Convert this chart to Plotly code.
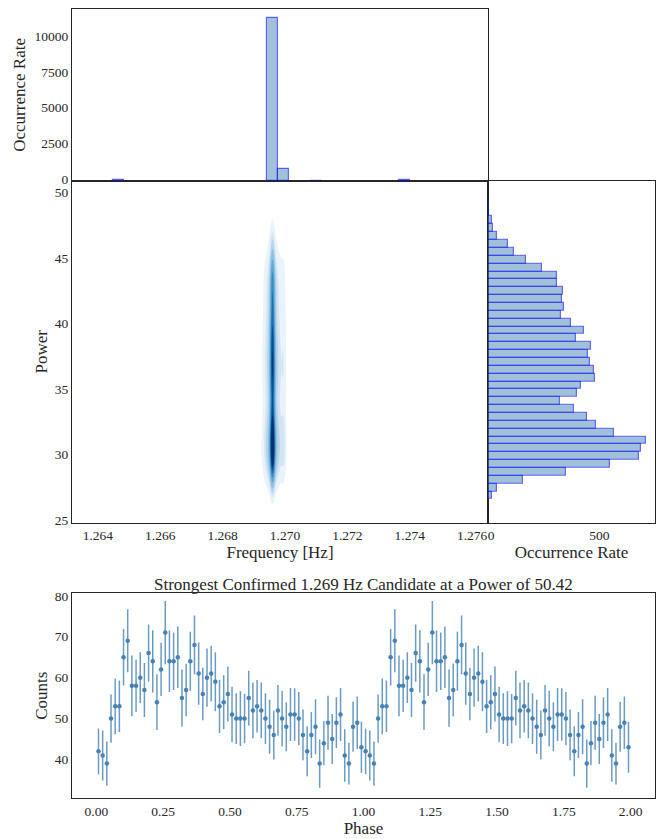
import numpy as np
import plotly.graph_objects as go

# ---------------- marginal histogram of candidate frequencies ----------------
freq_bin_width = 0.0003525
freq_bin_centers = [1.264666, 1.269601, 1.269954, 1.271011, 1.273831]
freq_counts = [40, 11455, 830, 30, 60]

# ---------------- marginal histogram of candidate powers ----------------
power_bin_low = 26.49
power_bin_width = 0.6008
power_counts = [17, 43, 162, 361, 561, 694, 706, 729, 579, 497,
                457, 398, 333, 411, 430, 492, 488, 469, 462, 474,
                407, 442, 381, 336, 349, 340, 346, 320, 320, 251,
                174, 121, 90, 41, 21, 17, 6, 6]

# ---------------- folded pulse profile (one cycle, 64 phase bins) ----------------
profile_counts = [42, 41, 39, 50, 53, 53, 65, 69, 58, 58,
                  60, 57, 66, 64, 54, 62, 71, 64, 64, 65,
                  55, 57, 64, 68, 61, 56, 60, 61, 59, 53,
                  54, 56, 51, 50, 50, 50, 55, 52, 53, 52,
                  50, 48, 46, 52, 50, 48, 51, 51, 50, 46,
                  42, 46, 48, 39, 44, 49, 45, 49, 51, 41,
                  39, 48, 49, 43]
profile_errors = [5.6, 6.1, 5.4, 5.9, 6.8, 6.3, 6.9, 7.7, 7.4, 6.4,
                  6.2, 6.6, 7.0, 7.6, 6.8, 6.5, 7.7, 7.5, 7.0, 7.5,
                  7.0, 6.4, 7.2, 7.2, 7.6, 6.4, 7.1, 6.8, 7.2, 6.5,
                  6.6, 6.7, 6.8, 6.2, 6.7, 6.0, 6.7, 6.8, 6.4, 6.8,
                  6.2, 6.6, 6.0, 6.2, 6.8, 6.0, 6.5, 6.4, 6.5, 6.2,
                  6.1, 5.6, 6.7, 5.9, 5.4, 6.6, 6.1, 6.2, 6.5, 6.4,
                  5.1, 6.1, 6.4, 6.2]
n_cycles = 2

title_text = "Strongest Confirmed 1.269 Hz Candidate at a Power of 50.42"

# ---------------- styling ----------------
W, H = 665, 839
FONT = "Liberation Serif, DejaVu Serif, serif"
TXT = "#262626"
BAR_FILL = "rgba(70,130,180,0.5)"
BAR_EDGE = "rgba(0,0,255,0.55)"
PT_COLOR = "#4682b4"


def px_x(v):
    return v / W


def px_y(v):
    return 1 - v / H


# ---------------- joint density from the binned samples ----------------
f_centers = np.array(freq_bin_centers)
f_counts = np.array(freq_counts, dtype=float)
p_centers = power_bin_low + (np.arange(len(power_counts)) + 0.5) * power_bin_width
p_counts = np.array(power_counts, dtype=float)

f_grid = np.linspace(1.2682, 1.2714, 360)
p_grid = np.linspace(24.8, 50.7, 300)


def gauss(x, mu, s):
    return np.exp(-0.5 * ((x - mu) / s) ** 2) / s


# frequency kernel: sharp core plus a broader wing
core_sigma, wing_sigma, core_frac = 0.00005, 0.00017, 0.45
f_dens = np.zeros_like(f_grid)
for c, n in zip(f_centers, f_counts):
    f_dens += n * (core_frac * gauss(f_grid, c, core_sigma)
                   + (1 - core_frac) * gauss(f_grid, c, wing_sigma))

power_sigma = 1.0
p_dens = np.zeros_like(p_grid)
for c, n in zip(p_centers, p_counts):
    p_dens += n * gauss(p_grid, c, power_sigma)

dens = np.outer(p_dens, f_dens)

# iso-proportion transform: value = probability mass lying below this density
flat = dens.ravel()
order = np.argsort(flat)
cum = np.cumsum(flat[order])
cum /= cum[-1]
iso = np.empty_like(flat)
iso[order] = cum
iso = iso.reshape(dens.shape)

blues = ["#f7fbff", "#deebf7", "#c6dbef", "#9ecae1", "#6baed6",
         "#4292c6", "#2171b5", "#08519c", "#08306b"]
cscale = [[0.0, "rgba(255,255,255,0)"], [0.049, "rgba(255,255,255,0)"]]
for i, col in enumerate(blues):
    cscale.append([0.05 + 0.95 * i / (len(blues) - 1), col])

fig = go.Figure()

fig.add_trace(go.Contour(
    x=f_grid, y=p_grid, z=iso, xaxis="x", yaxis="y",
    colorscale=cscale, zmin=0, zmax=1, showscale=False,
    contours=dict(coloring="fill", start=0.05, end=0.95, size=0.95 / 9, showlines=False),
    line=dict(width=0), hoverinfo="skip",
))

# top marginal: frequency histogram
fig.add_trace(go.Bar(
    x=freq_bin_centers, y=freq_counts, width=freq_bin_width,
    xaxis="x2", yaxis="y2",
    marker=dict(color=BAR_FILL, line=dict(color=BAR_EDGE, width=1.2)),
))

# right marginal: power histogram
fig.add_trace(go.Bar(
    y=p_centers, x=power_counts, width=power_bin_width, orientation="h",
    xaxis="x3", yaxis="y3",
    marker=dict(color=BAR_FILL, line=dict(color=BAR_EDGE, width=1.2)),
))

# folded profile, shown over two cycles
nb = len(profile_counts)
phase = (np.arange(nb * n_cycles) + 0.5) / nb
counts_all = np.tile(profile_counts, n_cycles)
errs_all = np.tile(profile_errors, n_cycles)
fig.add_trace(go.Scatter(
    x=phase, y=counts_all, mode="markers", xaxis="x4", yaxis="y4",
    marker=dict(color=PT_COLOR, size=4.5),
    error_y=dict(type="data", array=errs_all, visible=True, thickness=1.5,
                 width=0, color="rgba(70,130,180,0.8)"),
))

tickfont = dict(family=FONT, size=13.5, color=TXT)
titlefont = dict(family=FONT, size=17, color=TXT)
base = dict(showline=True, mirror=True, linecolor=TXT, linewidth=1,
            showgrid=False, zeroline=False, ticks="", tickfont=tickfont)

freq_ticks = [1.264, 1.266, 1.268, 1.270, 1.272, 1.274, 1.276]
occ_ticks = [0, 2500, 5000, 7500, 10000]
phase_ticks = [0, 0.25, 0.5, 0.75, 1.0, 1.25, 1.5, 1.75, 2.0]
fig.update_layout(
    width=W, height=H, autosize=False,
    margin=dict(l=0, r=0, t=0, b=0),
    font=dict(family=FONT, color=TXT),
    paper_bgcolor="white", plot_bgcolor="white",
    showlegend=False, bargap=0,
    xaxis=dict(base, domain=[px_x(72), px_x(488)], range=[1.26317, 1.27651],
               tickvals=freq_ticks, ticktext=[f"{t:.3f}" for t in freq_ticks],
               title=dict(text="Frequency [Hz]", font=titlefont, standoff=2)),
    yaxis=dict(base, domain=[px_y(525), px_y(179)], range=[24.7, 50.83],
               tickvals=[25, 30, 35, 40, 45, 50], ticklabelshift=1,
               title=dict(text="Power", font=titlefont, standoff=2)),
    xaxis2=dict(base, domain=[px_x(72), px_x(488)], range=[1.26317, 1.27651],
                showticklabels=False, anchor="y2"),
    yaxis2=dict(base, domain=[px_y(179), px_y(5)], range=[0, 12083],
                tickvals=occ_ticks, ticktext=[str(t) for t in occ_ticks],
                anchor="x2", ticklabelshift=-2,
                title=dict(text="Occurrence Rate", font=titlefont, standoff=4)),
    xaxis3=dict(base, domain=[px_x(488), px_x(655)], range=[0, 770],
                tickvals=[0, 500], anchor="y3", ticklabelshift=3,
                title=dict(text="Occurrence Rate", font=titlefont, standoff=2)),
    yaxis3=dict(base, domain=[px_y(525), px_y(179)], range=[24.7, 50.83],
                showticklabels=False, anchor="x3"),
    xaxis4=dict(base, domain=[px_x(72), px_x(655)], range=[-0.0914, 2.0914],
                tickvals=phase_ticks, ticktext=[f"{t:.2f}" for t in phase_ticks],
                anchor="y4",
                title=dict(text="Phase", font=titlefont, standoff=0)),
    yaxis4=dict(base, domain=[px_y(804), px_y(596)], range=[30.5, 80.7],
                tickvals=[40, 50, 60, 70, 80], anchor="x4",
                title=dict(text="Counts", font=titlefont, standoff=2)),
    annotations=[dict(text=title_text, x=px_x(363.5), y=px_y(588),
                      xref="paper", yref="paper", showarrow=False,
                      xanchor="center", yanchor="middle",
                      font=dict(family=FONT, size=17, color=TXT))],
)

fig.write_html("out.html")
